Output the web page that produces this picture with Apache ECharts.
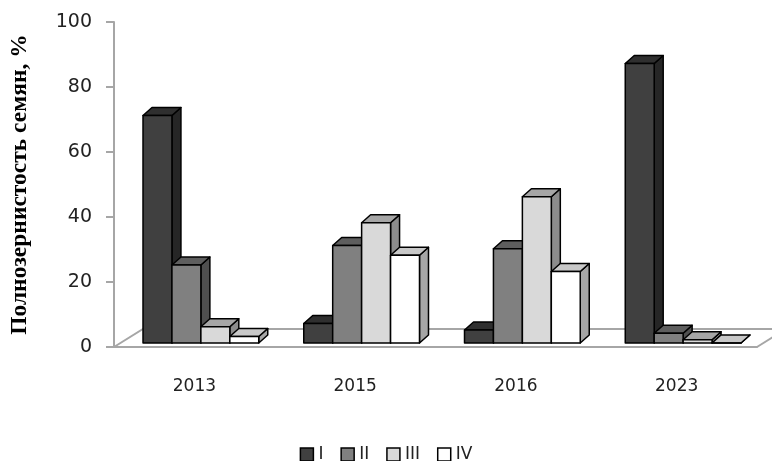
<!DOCTYPE html>
<html>
<head>
<meta charset="utf-8">
<script src="https://cdn.jsdelivr.net/npm/echarts@6/dist/echarts.min.js"></script>
<style>
  html, body { margin: 0; padding: 0; background: #fff; }
  #chart { width: 772px; height: 461px; }
</style>
</head>
<body>
<div id="chart"></div>
<script>
// years on the x axis
const years = ['2013', '2015', '2016', '2023'];
// fractions I..IV, % of seeds
const valsI = [70, 6, 4, 86];
const valsII = [24, 30, 29, 3];
const valsIII = [5, 37, 45, 1];
const valsIV = [2, 27, 22, 0];
const seriesNames = ['I', 'II', 'III', 'IV'];
const yTicks = [0, 20, 40, 60, 80, 100];

// front / top / side shades for each fraction
const shades = [
  { front: '#404040', top: '#2f2f2f', side: '#262626' },
  { front: '#808080', top: '#5e5e5e', side: '#4f4f4f' },
  { front: '#d9d9d9', top: '#a6a6a6', side: '#8c8c8c' },
  { front: '#ffffff', top: '#c8c8c8', side: '#a6a6a6' }
];

const DX = 9, DY = -8;          // bar depth
const FLOOR_DX = 29, FLOOR_DY = -18;
const SHIFT_X = 6.5, SHIFT_Y = -4;
const FONT = 'DejaVu Sans';

function renderBar(params, api) {
  const si = params.seriesIndex - 1;
  const cat = api.value(0);
  const val = api.value(1);
  const base = api.coord([cat, 0]);
  const top = api.coord([cat, val]);
  const catW = api.size([1, 0])[0];
  const bw = catW * 0.18;
  const x0 = base[0] - 2 * bw + si * bw + SHIFT_X;
  const x1 = x0 + bw;
  const yb = base[1] + SHIFT_Y;
  const yt = top[1] + SHIFT_Y;
  const sh = shades[si];
  const st = { stroke: '#000', lineWidth: 1.5, lineJoin: 'round' };
  return {
    type: 'group',
    children: [
      { type: 'polygon', shape: { points: [[x1, yb], [x1 + DX, yb + DY], [x1 + DX, yt + DY], [x1, yt]] },
        style: Object.assign({ fill: sh.side }, st) },
      { type: 'polygon', shape: { points: [[x0, yt], [x0 + DX, yt + DY], [x1 + DX, yt + DY], [x1, yt]] },
        style: Object.assign({ fill: sh.top }, st) },
      { type: 'rect', shape: { x: x0, y: yt, width: bw, height: yb - yt },
        style: Object.assign({ fill: sh.front }, st) }
    ]
  };
}

function renderFloor(params, api) {
  const cs = params.coordSys;
  const xl = cs.x, xr = cs.x + cs.width, yf = cs.y + cs.height;
  const ls = { stroke: '#a6a6a6', lineWidth: 2, fill: null };
  return {
    type: 'group',
    children: [
      { type: 'polyline', shape: { points: [[xl, yf], [xl + FLOOR_DX, yf + FLOOR_DY], [xr + FLOOR_DX, yf + FLOOR_DY]] }, style: ls },
      { type: 'line', shape: { x1: xr, y1: yf, x2: xr + FLOOR_DX, y2: yf + FLOOR_DY }, style: ls }
    ]
  };
}

const allVals = [valsI, valsII, valsIII, valsIV];

const barSeries = allVals.map((arr, i) => ({
  name: seriesNames[i],
  type: 'custom',
  renderItem: renderBar,
  clip: false,
  itemStyle: { color: shades[i].front, borderColor: '#000', borderWidth: 1.5 },
  encode: { x: 0, y: 1 },
  data: arr.map((v, k) => [k, v])
}));

const chart = echarts.init(document.getElementById('chart'));
chart.setOption({
  animation: false,
  textStyle: { fontFamily: FONT },
  grid: { left: 113, right: 15, top: 22, bottom: 114 },
  legend: {
    top: 446,
    left: 'center',
    padding: 0,
    itemWidth: 13,
    itemHeight: 13,
    itemGap: 17,
    icon: 'rect',
    textStyle: { fontSize: 17, color: '#222', fontFamily: FONT },
    data: seriesNames.map((n, i) => ({
      name: n,
      itemStyle: { color: shades[i].front, borderColor: '#000', borderWidth: 1.5 }
    }))
  },
  xAxis: {
    type: 'category',
    data: years,
    axisLine: { lineStyle: { color: '#a6a6a6', width: 2 } },
    axisTick: { length: 8, lineStyle: { color: '#a6a6a6', width: 2 } },
    axisLabel: { margin: 31, fontSize: 17, color: '#222' }
  },
  yAxis: {
    type: 'value',
    min: yTicks[0],
    max: yTicks[yTicks.length - 1],
    interval: 20,
    name: 'Полнозернистость семян, %',
    nameLocation: 'middle',
    nameGap: 82,
    nameTextStyle: { fontFamily: 'Liberation Serif', fontWeight: 'bold', fontSize: 23.5, color: '#000' },
    axisLine: { show: true, lineStyle: { color: '#a6a6a6', width: 2 } },
    axisTick: { show: true, length: 8, lineStyle: { color: '#a6a6a6', width: 2 } },
    axisLabel: { margin: 22, fontSize: 19, color: '#222' },
    splitLine: { show: false }
  },
  series: [{
    type: 'custom',
    renderItem: renderFloor,
    clip: false,
    silent: true,
    z: 1,
    data: [[0, 0]]
  }].concat(barSeries)
});
</script>
</body>
</html>
